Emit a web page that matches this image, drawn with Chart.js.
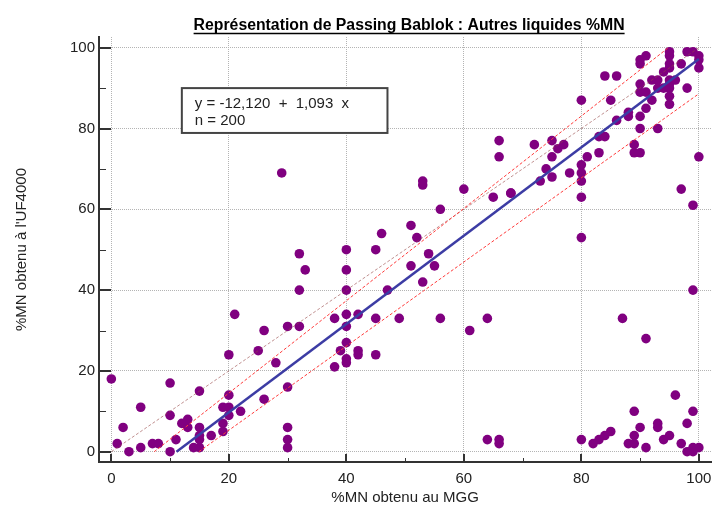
<!DOCTYPE html>
<html>
<head>
<meta charset="utf-8">
<script src="https://cdn.jsdelivr.net/npm/chart.js@4.4.1/dist/chart.umd.min.js"></script>
<style>
    body { margin: 0; background: #fff; }
    #pb-chart { display: block; }
</style>
</head>
<body>
<canvas id="pb-chart" width="716" height="508"></canvas>
<script>
// %MN au MGG (x) et a l'UF4000 (y)
const mggValues = [
    0, 1, 2, 3, 5, 5, 7, 8, 10, 10, 10, 11, 12, 13, 13, 14, 15, 15, 15, 15, 15, 17, 19, 19, 19,
    20, 20, 20, 20, 21, 22, 25, 26, 26, 28, 29, 30, 30, 30, 30, 30, 32, 33, 32, 32,
    53, 53, 60, 56, 65, 68, 51, 46, 52, 40, 45, 54, 40, 51, 55, 53, 40, 47, 38, 40,
    40, 42, 45, 49, 56, 64, 61, 40, 39, 42, 42, 45, 40, 40, 38,
    95, 98, 99, 100, 100, 100, 91, 90, 90, 95, 95, 95, 97, 94, 96, 92, 90, 93, 95, 95,
    95, 95, 95, 98, 94, 93, 90, 91, 92, 91, 90, 88, 88, 86, 93, 90, 84, 86, 85, 80,
    83, 84, 66, 66, 72, 75, 75, 76, 77, 74, 75, 73, 78, 80, 80, 80, 80, 81, 83, 89,
    89, 90, 68, 97, 99, 100,
    80, 99, 87, 91, 96, 89, 99, 93, 93, 98, 90, 85, 84, 83, 82, 80, 66, 66, 64, 88,
    89, 89, 91, 94, 95, 97, 98, 99, 99, 100
];
const uf4000Values = [
    18, 2, 6, 0, 1, 11, 2, 2, 17, 9, 0, 3, 7, 8, 6, 1, 1, 15, 6, 4, 3, 4, 11, 7, 5,
    14, 11, 9, 24, 34, 10, 25, 30, 13, 22, 69, 16, 31, 6, 3, 1, 49, 45, 40, 31,
    67, 66, 65, 60, 63, 64, 56, 54, 53, 50, 50, 49, 45, 46, 46, 42, 40, 40, 33, 34,
    31, 34, 33, 33, 33, 33, 30, 27, 25, 25, 24, 24, 23, 22, 21,
    99, 99, 99, 98, 97, 95, 98, 97, 96, 98, 96, 95, 96, 94, 92, 92, 91, 92, 92, 91,
    90, 88, 86, 90, 90, 90, 89, 89, 87, 85, 83, 84, 83, 82, 80, 80, 93, 93, 87, 87,
    78, 78, 77, 73, 76, 77, 73, 75, 76, 70, 68, 67, 69, 71, 69, 67, 63, 73, 74, 76,
    74, 74, 64, 65, 61, 73,
    53, 40, 33, 28, 14, 10, 10, 7, 6, 7, 6, 5, 4, 3, 2, 3, 3, 2, 3, 2,
    2, 4, 1, 3, 4, 2, 0, 0, 1, 1
];

// droite de Passing-Bablok et bandes
const fitIntercept = -12.120;
const fitSlope = 1.093;
const sampleSize = 200;
const upperBandX = [7.3, 94.8];
const upperBandY = [0, 100];
const lowerBandX = [14.9, 100];
const lowerBandY = [0, 88.6];
const identityX = [0, 100];
const identityY = [0, 100];

const tickValues = [0, 20, 40, 60, 80, 100];
const minorTickValues = [10, 30, 50, 70, 90];

const chartTitle = 'Représentation de Passing Bablok : Autres liquides %MN';
const xTitle = '%MN obtenu au MGG';
const yTitle = "%MN obtenu à l'UF4000";

const toPoints = (xs, ys) => xs.map((v, i) => ({ x: v, y: ys[i] }));
const fr = v => v.toFixed(3).replace('.', ',');

const fitStart = -fitIntercept / fitSlope;
const fitLineX = [fitStart, 100];
const fitLineY = fitLineX.map(v => fitIntercept + fitSlope * v);

const decorPlugin = {
    id: 'decor',
    afterDraw(chart) {
        const { ctx, chartArea } = chart;
        const x = chart.scales.x;
        const y = chart.scales.y;
        ctx.save();

        // tick marks, pointing into the plot
        ctx.strokeStyle = '#333';
        const all = tickValues.concat(minorTickValues);
        all.forEach(v => {
            const major = tickValues.includes(v);
            ctx.lineWidth = major ? 2 : 1;
            const px = Math.round(x.getPixelForValue(v)) + (major ? 0 : 0.5);
            ctx.beginPath();
            ctx.moveTo(px, chartArea.bottom);
            ctx.lineTo(px, chartArea.bottom - (major ? 8 : 4));
            ctx.stroke();
            const py = Math.round(y.getPixelForValue(v)) + (major ? 0 : 0.5);
            ctx.beginPath();
            ctx.moveTo(chartArea.left, py);
            ctx.lineTo(chartArea.left + (major ? 12 : 7), py);
            ctx.stroke();
        });

        // title, underlined
        ctx.font = 'bold 15.8px "Liberation Sans", Arial, sans-serif';
        ctx.fillStyle = '#000';
        ctx.textAlign = 'center';
        ctx.textBaseline = 'alphabetic';
        const cx = (chartArea.left + chartArea.right) / 2 + 4;
        ctx.fillText(chartTitle, cx, 30);
        const w = ctx.measureText(chartTitle).width;
        ctx.lineWidth = 1.5;
        ctx.strokeStyle = '#000';
        ctx.beginPath();
        ctx.moveTo(cx - w / 2, 33.5);
        ctx.lineTo(cx + w / 2, 33.5);
        ctx.stroke();

        // equation box
        const bx0 = x.getPixelForValue(12.0);
        const bx1 = x.getPixelForValue(47.0);
        const by0 = y.getPixelForValue(90.0);
        const by1 = y.getPixelForValue(78.9);
        ctx.fillStyle = '#fff';
        ctx.fillRect(bx0, by0, bx1 - bx0, by1 - by0);
        ctx.lineWidth = 2;
        ctx.strokeStyle = '#444';
        ctx.strokeRect(bx0, by0, bx1 - bx0, by1 - by0);
        ctx.fillStyle = '#222';
        ctx.font = '15px "Liberation Sans", Arial, sans-serif';
        ctx.textAlign = 'left';
        ctx.fillText('y = ' + fr(fitIntercept) + '  +  ' + fr(fitSlope) + '  x', bx0 + 13, by0 + 20);
        ctx.fillText('n = ' + sampleSize, bx0 + 13, by0 + 37);

        ctx.restore();
    }
};

Chart.defaults.font.family = '"Liberation Sans", Arial, sans-serif';
Chart.defaults.font.size = 15;
Chart.defaults.color = '#222';

const ctx = document.getElementById('pb-chart').getContext('2d');
new Chart(ctx, {
    type: 'scatter',
    data: {
        datasets: [
            {
                label: 'Passing-Bablok',
                data: toPoints(fitLineX, fitLineY),
                showLine: true,
                borderColor: '#3c3ca4',
                borderWidth: 2.5,
                pointRadius: 0,
                order: 0
            },
            {
                label: 'IC sup',
                data: toPoints(upperBandX, upperBandY),
                showLine: true,
                borderColor: '#ff3b3b',
                borderWidth: 1,
                borderDash: [3, 2],
                pointRadius: 0,
                order: 1
            },
            {
                label: 'IC inf',
                data: toPoints(lowerBandX, lowerBandY),
                showLine: true,
                borderColor: '#ff3b3b',
                borderWidth: 1,
                borderDash: [3, 2],
                pointRadius: 0,
                order: 1
            },
            {
                label: 'y = x',
                data: toPoints(identityX, identityY),
                showLine: true,
                borderColor: 'rgba(150, 70, 70, 0.6)',
                borderWidth: 1,
                borderDash: [3, 2],
                pointRadius: 0,
                order: 1
            },
            {
                label: 'Echantillons',
                data: toPoints(mggValues, uf4000Values),
                backgroundColor: '#800080',
                borderWidth: 0,
                pointRadius: 4.8,
                order: 2
            }
        ]
    },
    options: {
        responsive: false,
        animation: false,
        devicePixelRatio: 1,
        layout: {
            padding: { top: 37, right: 0, left: 0, bottom: 0 }
        },
        plugins: {
            legend: { display: false },
            tooltip: { enabled: false }
        },
        scales: {
            x: {
                type: 'linear',
                min: -2.1,
                max: 102.1,
                afterBuildTicks: scale => {
                    scale.ticks = tickValues.map(v => ({ value: v }));
                },
                afterFit: scale => {
                    scale.height = 46;
                    scale.paddingLeft = 0;
                    scale.paddingRight = 0;
                },
                ticks: {
                    autoSkip: false,
                    maxRotation: 0,
                    padding: 8,
                    callback: v => String(v)
                },
                grid: {
                    color: '#b4b4b4',
                    lineWidth: 1,
                    drawTicks: false
                },
                border: {
                    display: true,
                    color: '#333',
                    width: 2,
                    dash: [1, 1]
                },
                title: {
                    display: true,
                    text: xTitle,
                    padding: { top: 0, bottom: 1 }
                }
            },
            y: {
                type: 'linear',
                min: -2.55,
                max: 102.65,
                afterBuildTicks: scale => {
                    scale.ticks = tickValues.map(v => ({ value: v }));
                },
                afterFit: scale => {
                    scale.width = 99;
                    scale.paddingTop = 0;
                    scale.paddingBottom = 0;
                },
                ticks: {
                    autoSkip: false,
                    padding: 4,
                    callback: v => String(v)
                },
                grid: {
                    color: '#b4b4b4',
                    lineWidth: 1,
                    drawTicks: false
                },
                border: {
                    display: true,
                    color: '#333',
                    width: 2,
                    dash: [1, 1]
                },
                title: {
                    display: true,
                    text: yTitle,
                    padding: { top: 13, bottom: 0 }
                }
            }
        }
    },
    plugins: [decorPlugin]
});
</script>
</body>
</html>
